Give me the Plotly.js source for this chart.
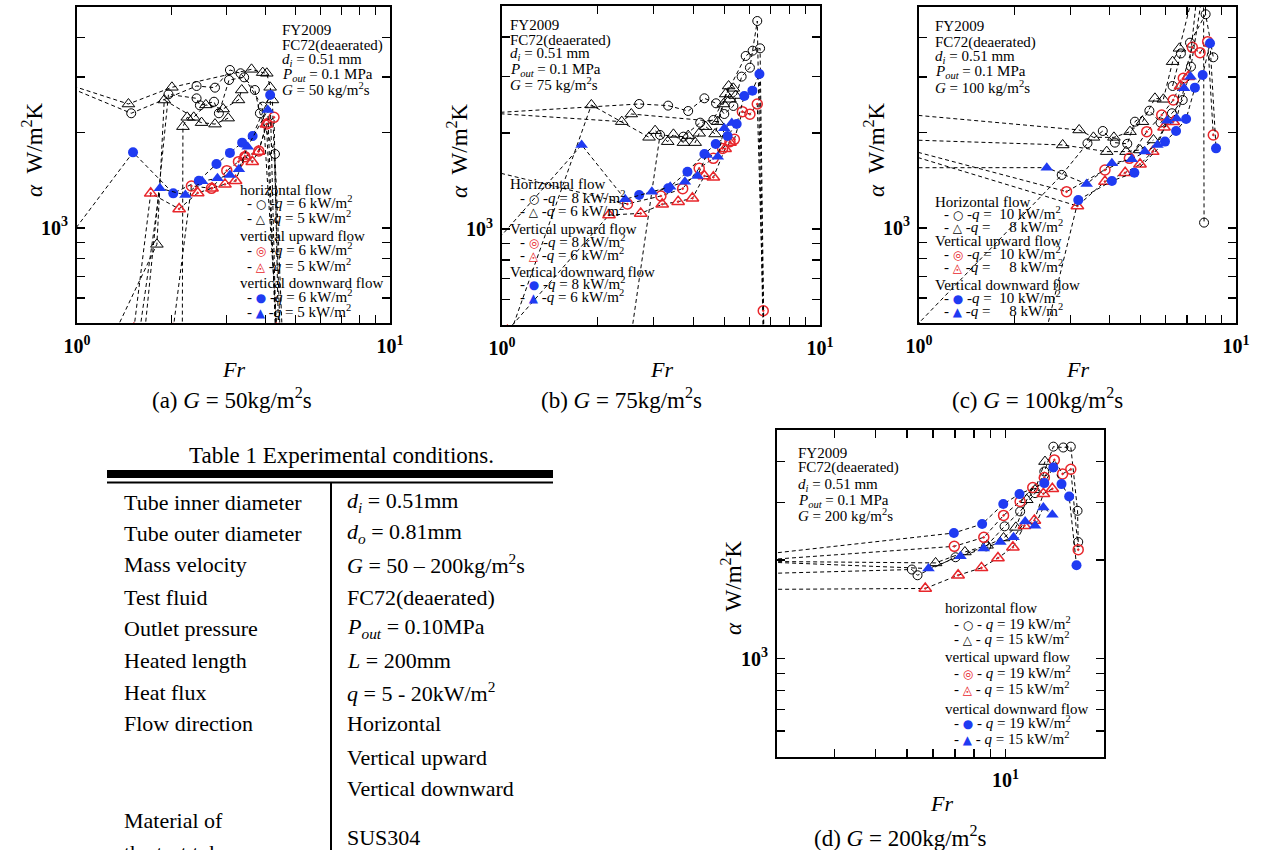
<!DOCTYPE html>
<html><head><meta charset="utf-8">
<script src="https://cdn.plot.ly/plotly-3.0.1.min.js"></script>
<style>html,body{margin:0;padding:0;background:#fff}#chart{width:1262px;height:850px}</style>
</head><body><div id="chart"></div>
<script>
// ---------------- DATA (Fr, alpha W/m2K) ----------------
// (a) G = 50
const a_h6_fr = [0.8, 1.49, 2.41, 2.76, 3.08, 3.33, 3.70, 3.84, 4.29, 4.52, null, 1.65, 1.96, 2.41, 2.47, 2.74, 2.84, 3.06, 3.42, 3.92, 4.35];
const a_h6_al = [2980, 2305, 2812, 2778, 3160, 3085, 2731, 2305, 1713, 480, null, 480, 2646, 2570, 2442, 2507, 2305, 2938, 2995, 2419, 480];
const a_h5_fr = [0.8, 1.46, 2.01, 3.61, 3.92, 4.04, 4.14, 4.21, 4.45, null, 1.34, 1.80, 1.90, 2.36, 2.58, 2.93, 3.28, 3.36, null, 2.17, 2.18, 2.25, 2.50, 2.76, 3.04];
const a_h5_al = [2990, 2466, 2785, 3175, 3100, 3085, 2785, 2540, 480, null, 480, 887, 2539, 2238, 2450, 2378, 2540, 2731, null, 480, 2091, 2238, 2153, 2130, 2225];
const a_u6_fr = [2.03, 2.32, 2.69, 3.01, 3.28, 3.44, 3.81, 4.04, 4.26, 4.40];
const a_u6_al = [480, 1357, 1334, 1517, 1620, 1680, 1751, 2132, 2238, 480];
const a_u5_fr = [1.52, 1.72, 2.12, 2.43, 2.70, 2.97, 3.21, 3.44, 3.63, 3.80, 4.03, 4.33];
const a_u5_al = [480, 1286, 1148, 1290, 1334, 1373, 1410, 1685, 1620, 1745, 2128, 480];
const a_d6_fr = [0.8, 1.51, 2.03, 2.45, 2.79, 3.08, 3.37, 3.64, 4.14, 4.32];
const a_d6_al = [753, 1734, 1286, 1410, 1593, 1727, 1861, 1954, 2633, 480];
const a_d5_fr = [1.59, 1.84, 2.22, 2.51, 2.81, 3.08, 3.29, 3.51, 4.07, 4.30];
const a_d5_al = [480, 1334, 1271, 1405, 1435, 1470, 1532, 1807, 2361, 480];

// (b) G = 75
const b_h8_fr = [0.85, 2.70, 3.33, 3.85, 4.33, 4.71, 5.00, 5.34, 5.67, 6.02, 6.35, 6.62, null, 2.56, 3.14, 3.72, 4.20, 4.62, 5.84, 6.14, 6.48, 6.66];
const b_h8_al = [2300, 2465, 2436, 2343, 2568, 2477, 2293, 2430, 3003, 3204, 4487, 480, null, 480, 1971, 1947, 2154, 2196, 3486, 3622, 3684, 480];
const b_h6_fr = [1.07, 1.91, 2.90, 3.03, 3.32, 3.46, 3.72, 3.85, 4.05, 4.17, 4.37, 4.68, 4.97, 5.16, 5.34, null, 0.85, 2.38, 2.55, 4.77, 5.05, 5.21, 5.43];
const b_h6_al = [480, 2448, 1938, 2033, 1878, 1980, 1865, 1962, 1865, 1995, 2093, 1985, 2465, 2806, 2760, null, 2320, 2170, 2293, 2170, 2649, 2550, 2620];
const b_u8_fr = [0.9, 2.48, 3.16, 3.70, 4.17, 4.62, 4.94, 5.21, 5.38, 5.70, 6.02, 6.35, 6.63, 6.68];
const b_u8_al = [1530, 1198, 1269, 1338, 1549, 1665, 1789, 1878, 1910, 2332, 2290, 2465, 554, 400];
const b_u6_fr = [1.04, 2.17, 2.73, 3.19, 3.58, 3.97, 4.33, 4.62, 5.03, 5.21];
const b_u6_al = [480, 1106, 1119, 1195, 1218, 1248, 1466, 1452, 1784, 1865];
const b_d8_fr = [2.70, 3.33, 3.83, 4.33, 4.70, 5.12, 5.47, 5.78, 6.13, 6.45, 6.65];
const b_d8_al = [1278, 1341, 1512, 1718, 1847, 1957, 2134, 2612, 2714, 3061, 480];
const b_d6_fr = [0.95, 1.78, 2.44, 2.96, 3.38, 3.76, 4.12, 4.40, 4.77, 5.00, 5.28];
const b_d6_al = [904, 1834, 1239, 1309, 1357, 1407, 1466, 1706, 1685, 2068, 2147];

// (c) G = 100
const c_h10_fr = [0.98, 2.82, 3.40, 3.80, 4.15, 4.54, 4.80, 5.33, 5.78, 6.28, 6.79, 7.21, 7.9, 7.93, null, 6.31, 6.70, 7.16, 8.02, 8.48];
const c_h10_al = [490, 1471, 1852, 2026, 1861, 1845, 2168, 2349, 2155, 2305, 2539, 3237, 5800, 1039, null, 2812, 3565, 3855, 4743, 3466];
const c_h8_fr = [0.9, 3.20, 3.55, 4.12, 4.63, 5.07, 5.55, 5.90, 6.31, 6.63, 7.35, null, 0.9, 2.84, 3.91, 4.50, 4.98, 5.49];
const c_h8_al = [2290, 2041, 1934, 1934, 2016, 2168, 2570, 2552, 3357, 3700, 5600, null, 1900, 1830, 1743, 1743, 1764, 1897];
const c_u10_fr = [0.9, 2.92, 3.86, 4.61, 5.23, 5.83, 6.34, 6.82, 7.28, 7.70, 8.14, 8.48];
const c_u10_al = [1780, 1302, 1525, 1660, 2016, 2277, 2539, 2974, 3727, 3585, 3884, 1968];
const c_u8_fr = [0.9, 3.16, 3.86, 4.47, 4.98, 5.46, 5.93, 6.34, 6.69, 7.07, 7.55];
const c_u8_al = [1720, 1173, 1401, 1495, 1589, 1743, 2081, 2168, 2812, 3009, 5600];
const c_d10_fr = [2.53, 3.18, 4.06, 4.78, 5.97, 6.47, 6.96, 7.42, 7.85, 8.28, 8.65];
const c_d10_al = [480, 1225, 1408, 1495, 1875, 2026, 2211, 2778, 3047, 3837, 1785];
const c_d8_fr = [0.9, 2.53, 3.38, 4.06, 4.69, 5.16, 5.65, 6.07, 6.50, 6.86, 7.19];
const c_d8_al = [1550, 1551, 1377, 1601, 1648, 1743, 1830, 2183, 2220, 2766, 3009];

// (d) G = 200
const d_h19_fr = [1.5, 5.17, 5.38, 7.03, 8.72, 9.93, 11.08, 12.31, 13.14, 14.0, 15.01, 15.83, 16.6, 16.68];
const d_h19_al = [1810, 1872, 1798, 2041, 2204, 2537, 2818, 3206, 3733, 4447, 4420, 4447, 2831, 2273];
const d_h15_fr = [1.5, 6.11, 7.51, 8.78, 9.86, 10.75, 11.61, 12.31, 13.2];
const d_h15_al = [1985, 1961, 2118, 2220, 2337, 2519, 3059, 3281, 4004];
const d_u19_fr = [1.5, 6.97, 8.58, 9.86, 11.08, 12.11, 13.14, 14.1, 14.94, 15.83, 16.68];
const d_u19_al = [1975, 2204, 2348, 2740, 3023, 3336, 3578, 4050, 3671, 3793, 2153];
const d_u15_fr = [1.5, 5.68, 7.16, 8.44, 9.48, 10.53, 11.42, 12.25, 13.05, 13.9];
const d_u15_al = [1626, 1638, 1798, 1894, 2031, 2189, 2549, 2646, 3191, 3305];
const d_d19_fr = [1.5, 6.95, 8.48, 9.84, 11.03, 13.14, 14.0, 14.83, 15.65, 16.48];
const d_d19_al = [2040, 2421, 2579, 2968, 3184, 3440, 3839, 3416, 3131, 1929];
const d_d15_fr = [1.5, 5.81, 7.28, 8.58, 9.64, 10.58, 11.48, 12.31, 13.05, 13.9];
const d_d15_al = [1990, 1885, 2055, 2169, 2273, 2348, 2627, 2549, 2899, 2754];

// tick values
const xMajor = [1, 10];
const xMinor = [2, 3, 4, 5, 6, 7, 8, 9];
const xMajorD = [10];
const xMinorD = [3, 4, 5, 6, 7, 8, 9];
const yMajor = [1000];
const yMinor = [600, 700, 800, 900, 2000, 3000, 4000];

// ---------------- STYLE ----------------
const W = 1262, H = 850;
const RED = '#e8262b', BLUE = '#1f3bf2', BLACK = '#000000';
const SERIF = 'Liberation Serif, Times New Roman, serif';

const MK = {
  hHi: {symbol: 'circle-open', color: BLACK, size: 9, lw: 1},
  hLo: {symbol: 'triangle-up-open', color: BLACK, size: 11, lw: 1},
  uHi: {symbol: 'circle-open-dot', color: RED, size: 10, lw: 1.5},
  uLo: {symbol: 'triangle-up-open-dot', color: RED, size: 11, lw: 1.5},
  dHi: {symbol: 'circle', color: BLUE, size: 10, lw: 0},
  dLo: {symbol: 'triangle-up', color: BLUE, size: 11, lw: 0}
};

function tr(fr, al, kind, n) {
  const m = MK[kind];
  return {
    type: 'scatter', mode: 'lines+markers', x: fr, y: al,
    xaxis: n === 1 ? 'x' : 'x' + n, yaxis: n === 1 ? 'y' : 'y' + n,
    connectgaps: false, showlegend: false, hoverinfo: 'skip',
    line: {color: BLACK, width: 1, dash: '4px,3px'},
    marker: {symbol: m.symbol, size: m.size, color: m.color, line: {width: m.lw, color: m.color}}
  };
}

const data = [
  tr(a_h6_fr, a_h6_al, 'hHi', 1), tr(a_h5_fr, a_h5_al, 'hLo', 1),
  tr(a_u6_fr, a_u6_al, 'uHi', 1), tr(a_u5_fr, a_u5_al, 'uLo', 1),
  tr(a_d6_fr, a_d6_al, 'dHi', 1), tr(a_d5_fr, a_d5_al, 'dLo', 1),
  tr(b_h8_fr, b_h8_al, 'hHi', 2), tr(b_h6_fr, b_h6_al, 'hLo', 2),
  tr(b_u8_fr, b_u8_al, 'uHi', 2), tr(b_u6_fr, b_u6_al, 'uLo', 2),
  tr(b_d8_fr, b_d8_al, 'dHi', 2), tr(b_d6_fr, b_d6_al, 'dLo', 2),
  tr(c_h10_fr, c_h10_al, 'hHi', 3), tr(c_h8_fr, c_h8_al, 'hLo', 3),
  tr(c_u10_fr, c_u10_al, 'uHi', 3), tr(c_u8_fr, c_u8_al, 'uLo', 3),
  tr(c_d10_fr, c_d10_al, 'dHi', 3), tr(c_d8_fr, c_d8_al, 'dLo', 3),
  tr(d_h19_fr, d_h19_al, 'hHi', 4), tr(d_h15_fr, d_h15_al, 'hLo', 4),
  tr(d_u19_fr, d_u19_al, 'uHi', 4), tr(d_u15_fr, d_u15_al, 'uLo', 4),
  tr(d_d19_fr, d_d19_al, 'dHi', 4), tr(d_d15_fr, d_d15_al, 'dLo', 4)
];

const common = {
  type: 'log', tickmode: 'array', ticks: 'inside', ticklen: 8, tickwidth: 1.3, tickcolor: BLACK,
  showline: true, linecolor: BLACK, linewidth: 2, mirror: 'allticks',
  showgrid: false, zeroline: false, fixedrange: true,
  tickfont: {family: SERIF, size: 20, color: BLACK}
};
function minorOf(vals) {
  return {tickmode: 'array', tickvals: vals, ticks: 'inside', ticklen: 8, tickwidth: 1.3, tickcolor: BLACK, showgrid: false};
}
function xax(x0, x1, rng, major, minor) {
  return Object.assign({}, common, {
    domain: [x0 / W, x1 / W], range: rng, tickvals: major,
    ticktext: major.map(v => v === 1 ? '<b>10<sup>0</sup></b>' : '<b>10<sup>1</sup></b>'),
    minor: minorOf(minor), ticklabelstandoff: 4
  });
}
function yax(y0, y1) {
  return Object.assign({}, common, {
    domain: [1 - y1 / H, 1 - y0 / H], range: [Math.log10(500), Math.log10(5000)], tickvals: yMajor,
    ticktext: ['<b>10<sup>3</sup></b>'], minor: minorOf(yMinor), ticklabelstandoff: 3
  });
}

function T(x, y, text, size, extra) {
  return Object.assign({
    xref: 'paper', yref: 'paper', x: x / W, y: 1 - y / H, text: text, showarrow: false,
    xanchor: 'left', yanchor: 'middle', font: {family: SERIF, size: size || 15, color: BLACK}
  }, extra || {});
}

const GL = {
  hHi: ['○', BLACK], hLo: ['△', BLACK], uHi: ['◎', RED], uLo: ['◬', RED], dHi: ['●', BLUE], dLo: ['▲', BLUE]
};
function item(x, y, kind, label, sp) {
  const g = GL[kind];
  const sym = '<span style="font-family:DejaVu Sans;font-size:12px;color:' + g[1] + '">' + g[0] + '</span>';
  return T(x, y, '- ' + sym + ' -' + sp + '<i>q</i> = ' + label + ' kW/m<sup>2</sup>', 15);
}
function legend(hx, ix, ys, heads, labels, sp) {
  return [
    T(hx, ys[0], heads[0]), item(ix, ys[1], 'hHi', labels[0], sp), item(ix, ys[2], 'hLo', labels[1], sp),
    T(hx, ys[3], heads[1]), item(ix, ys[4], 'uHi', labels[0], sp), item(ix, ys[5], 'uLo', labels[1], sp),
    T(hx, ys[6], heads[2]), item(ix, ys[7], 'dHi', labels[0], sp), item(ix, ys[8], 'dLo', labels[1], sp)
  ];
}
function info(x, ys, G) {
  return [
    T(x, ys[0], 'FY2009'), T(x, ys[1], 'FC72(deaerated)'),
    T(x, ys[2], '<i>d<sub>i</sub></i> = 0.51 mm'), T(x, ys[3], '<i>P<sub>out</sub></i> = 0.1 MPa'),
    T(x, ys[4], '<i>G</i> = ' + G + ' kg/m<sup>2</sup>s')
  ];
}
const ylab = '<i>α</i>  W/m<sup>2</sup>K';
const lower = ['horizontal flow', 'vertical upward flow', 'vertical downward flow'];
const upper = ['Horizontal flow', 'Vertical upward flow', 'Vertical downward flow'];
const NB = '\u00a0';

let ann = [];
ann = ann.concat(info(280, [30, 45, 60, 75, 89], '50'));
ann = ann.concat(info(508, [25, 40, 54, 70, 84], '75'));
ann = ann.concat(info(933, [26, 43, 57, 72, 87], '100'));
ann = ann.concat(info(796, [453, 468, 485, 501, 515], '200'));
ann = ann.concat(legend(238, 245, [190, 202, 217, 236, 249, 265, 283, 296, 311], lower, ['6', '5'], ''));
ann = ann.concat(legend(508, 518, [184, 197, 210, 229, 241, 254, 272, 283, 296], upper, ['8', '6'], ''));
ann = ann.concat(legend(933, 942, [202, 213, 226, 241, 253, 266, 285, 297, 310], upper, [NB + '10', NB + NB + NB + NB + '8'], ''));
ann = ann.concat(legend(943, 952, [608, 623, 638, 657, 672, 688, 709, 722, 738], lower, ['19', '15'], ' '));
// axis titles
[[32, 150], [457, 150], [874, 150], [731, 588]].forEach(p => ann.push(T(p[0], p[1], ylab, 23, {xanchor: 'center', textangle: -90})));
[[233, 369], [661, 369], [1077, 369], [941, 803]].forEach(p => ann.push(T(p[0], p[1], '<i>Fr</i>', 22, {xanchor: 'center'})));
// captions
ann.push(T(232, 398, '(a) <i>G</i> = 50kg/m<sup>2</sup>s', 23, {xanchor: 'center'}));
ann.push(T(621, 398, '(b) <i>G</i> = 75kg/m<sup>2</sup>s', 23, {xanchor: 'center'}));
ann.push(T(1037, 398, '(c) <i>G</i> = 100kg/m<sup>2</sup>s', 23, {xanchor: 'center'}));
ann.push(T(900, 836, '(d) <i>G</i> = 200kg/m<sup>2</sup>s', 23, {xanchor: 'center'}));
// table
ann.push(T(341, 455, 'Table 1 Experimental conditions.', 23, {xanchor: 'center'}));
const rowL = ['Tube inner diameter', 'Tube outer diameter', 'Mass velocity', 'Test fluid', 'Outlet pressure', 'Heated length', 'Heat flux', 'Flow direction'];
const rowR = ['<i>d<sub>i</sub></i> = 0.51mm', '<i>d<sub>o</sub></i> = 0.81mm', '<i>G</i> = 50 – 200kg/m<sup>2</sup>s', 'FC72(deaerated)',
  '<i>P<sub>out</sub></i> = 0.10MPa', '<i>L</i> = 200mm', '<i>q</i> = 5 - 20kW/m<sup>2</sup>', 'Horizontal', 'Vertical upward', 'Vertical downward'];
const rowY = [502, 533, 564, 597, 628, 660, 692, 723, 757, 788];
rowL.forEach((t, i) => ann.push(T(122, rowY[i], t, 22)));
rowR.forEach((t, i) => ann.push(T(345, rowY[i], t, 22)));
ann.push(T(122, 820, 'Material of', 22));
ann.push(T(122, 852, 'the test tube', 22));
ann.push(T(345, 837, 'SUS304', 22));

const shapes = [
  {type: 'rect', xref: 'paper', yref: 'paper', x0: 107 / W, x1: 553 / W, y0: 1 - 478 / H, y1: 1 - 470 / H, fillcolor: BLACK, line: {width: 0}},
  {type: 'line', xref: 'paper', yref: 'paper', x0: 107 / W, x1: 553 / W, y0: 1 - 482.5 / H, y1: 1 - 482.5 / H, line: {color: BLACK, width: 2}},
  {type: 'line', xref: 'paper', yref: 'paper', x0: 331 / W, x1: 331 / W, y0: 1 - 483 / H, y1: 0, line: {color: BLACK, width: 2}}
];

const layout = {
  width: W, height: H, margin: {l: 0, r: 0, t: 0, b: 0},
  paper_bgcolor: '#ffffff', plot_bgcolor: '#ffffff', showlegend: false,
  font: {family: SERIF, color: BLACK},
  xaxis: Object.assign(xax(77, 390, [0, 1], xMajor, xMinor), {anchor: 'y'}),
  yaxis: Object.assign(yax(7, 323), {anchor: 'x'}),
  xaxis2: Object.assign(xax(502, 820, [0, 1], xMajor, xMinor), {anchor: 'y2'}),
  yaxis2: Object.assign(yax(6, 325), {anchor: 'x2'}),
  xaxis3: Object.assign(xax(919, 1236, [0, 1], xMajor, xMinor), {anchor: 'y3'}),
  yaxis3: Object.assign(yax(7, 323), {anchor: 'x3'}),
  xaxis4: Object.assign(xax(777, 1104, [Math.log10(2), Math.log10(20)], xMajorD, xMinorD), {anchor: 'y4'}),
  yaxis4: Object.assign(yax(430, 757), {anchor: 'x4'}),
  annotations: ann, shapes: shapes
};

Plotly.newPlot('chart', data, layout, {displayModeBar: false, staticPlot: true});
</script></body></html>
